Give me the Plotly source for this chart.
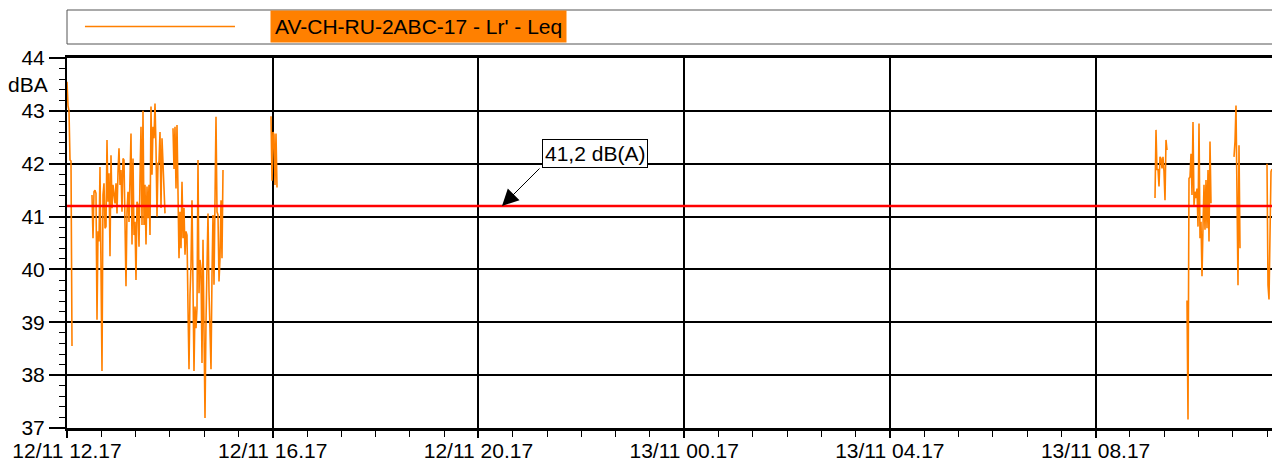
import plotly.graph_objects as go
import pandas as pd

# Leq samples (dBA), logged every 70 s, grouped in runs without gaps
SAMPLE_STEP = "70s"

seg_starts = [
    "2017-11-12 12:17:00",
    "2017-11-12 12:46:10",
    "2017-11-12 14:20:40",
    "2017-11-12 16:15:00",
    "2017-11-13 09:26:20",
    "2017-11-13 10:03:40",
    "2017-11-13 10:58:30",
    "2017-11-13 11:37:00",
]

leq_a = [43.55, 43.1, 43.0, 42.07, 42.05, 38.55]

leq_b1 = [
    41.41, 40.59, 41.47, 41.50, 41.44, 39.05, 40.72, 40.53, 41.94, 40.53,
    38.08, 41.41, 41.63, 40.78, 40.81, 42.45, 41.28, 41.82, 40.25, 42.16,
    41.16, 41.6, 41.41, 41.25, 41.63, 41.06, 41.85, 42.29, 41.6, 41.88,
    41.09, 42.1, 42.07, 41.16, 39.68, 41.09, 41.47, 40.9, 42.04, 42.57,
    40.47, 42.1, 40.65, 40.9, 39.8, 41.28, 41.22, 40.43, 41.72, 42.7,
    40.84, 43.0, 40.84, 41.6, 40.47, 41.57, 40.97, 41.6, 40.65, 43.08,
    41.79, 42.7, 42.48, 43.14, 42.3, 41.0, 42.0, 42.04, 42.6, 41.16,
    42.48, 42.04, 41.66, 41.06,
]

leq_b2 = [
    42.67, 41.9, 42.7, 41.53, 42.73, 41.09, 40.21, 41.09, 40.4, 41.66,
    40.59, 41.16, 40.28, 40.72, 40.65, 39.27, 38.11, 39.52, 40.09, 41.31,
    39.27, 38.08, 39.3, 38.89, 39.27, 42.07, 39.55, 40.18, 40.02, 38.23,
    40.56, 38.89, 37.19, 39.02, 40.09, 41.06, 39.58, 38.89, 38.11, 39.9,
    41.03, 39.71, 41.03, 42.89, 41.09, 41.03, 39.77, 40.21, 41.31, 40.21,
    41.88,
]

leq_c = [42.9, 41.68, 42.6, 42.55, 41.6, 42.57, 41.55]

leq_d1 = [41.35, 42.64, 41.88, 41.9, 41.57, 42.13, 42.1, 41.91, 42.13, 41.85,
          41.31, 42.45, 42.26]

leq_d2 = [39.41, 37.16, 41.72, 41.75, 42.19, 41.41, 42.79, 41.22, 41.47, 41.35,
          41.53, 40.81, 42.76, 40.59, 40.9, 39.87, 40.8, 41.6, 40.75, 41.69,
          40.78, 41.88, 40.53, 42.42, 41.25]

leq_d3 = [42.13, 42.42, 43.1, 41.22, 39.7, 42.35, 40.4]

leq_d4 = [42.0, 39.7, 39.43, 40.6, 41.85, 41.9]

segments = [leq_a, leq_b1, leq_b2, leq_c, leq_d1, leq_d2, leq_d3, leq_d4]

LEQ_TOTAL = 41.2
SERIES_NAME = "AV-CH-RU-2ABC-17 - Lr' - Leq"

X_START = "2017-11-12 12:17:00"
X_END = "2017-11-13 11:42:50"

# build one x/y series with None between runs so the line breaks
xs, ys = [], []
for start, vals in zip(seg_starts, segments):
    times = pd.date_range(start, periods=len(vals), freq=SAMPLE_STEP)
    xs.extend(times)
    ys.extend(vals)
    xs.append(times[-1] + pd.Timedelta(SAMPLE_STEP))
    ys.append(None)

FONT = "Arial, Liberation Sans, sans-serif"
ORANGE = "#FF8000"

fig = go.Figure()

fig.add_trace(go.Scatter(
    x=xs,
    y=ys,
    mode="lines",
    name=SERIES_NAME,
    line=dict(color=ORANGE, width=1.6),
    connectgaps=False,
))

fig.update_layout(
    width=1272,
    height=469,
    autosize=False,
    margin=dict(l=67, r=0, t=58, b=41),
    plot_bgcolor="white",
    paper_bgcolor="white",
    showlegend=False,
    font=dict(family=FONT, size=21, color="black"),
)

fig.update_xaxes(
    type="date",
    automargin=False,
    range=[X_START, X_END],
    tick0=X_START,
    dtick=4 * 3600 * 1000,
    tickformat="%d/%m %H.%M",
    ticks="outside",
    ticklen=7,
    tickwidth=1.5,
    tickcolor="black",
    ticklabelstandoff=-5,
    showgrid=True,
    gridcolor="black",
    gridwidth=1.5,
    showline=True,
    linecolor="black",
    linewidth=2.5,
    mirror=True,
    zeroline=False,
    minor=dict(dtick=40 * 60 * 1000, tick0=X_START, ticks="outside",
               ticklen=6, tickcolor="black", tickwidth=1, showgrid=False),
)

fig.update_yaxes(
    automargin=False,
    range=[37, 44],
    dtick=1,
    ticks="outside",
    ticklen=16,
    tickwidth=1.5,
    tickcolor="black",
    showgrid=True,
    gridcolor="black",
    gridwidth=1.5,
    showline=True,
    linecolor="black",
    linewidth=2,
    zeroline=False,
    minor=dict(dtick=0.2, ticks="outside", ticklen=6, tickcolor="black",
               tickwidth=1, showgrid=False),
)

# overall Leq line
fig.add_shape(type="line", xref="paper", yref="y", x0=0, x1=1,
              y0=LEQ_TOTAL, y1=LEQ_TOTAL, line=dict(color="#FF0000", width=2.5))

# label box + arrow for the overall level
fig.add_annotation(
    x="2017-11-12 22:33:00", y=42.19, xref="x", yref="y",
    text=f"{LEQ_TOTAL:.1f}".replace(".", ",") + " dB(A)",
    showarrow=False, bgcolor="white", bordercolor="black", borderwidth=1,
    borderpad=2, font=dict(size=21, color="black"),
)
fig.add_annotation(
    x="2017-11-12 20:44:30", y=LEQ_TOTAL, xref="x", yref="y",
    text="", showarrow=True, ax=39, ay=-39,
    arrowhead=2, arrowsize=3.3, arrowwidth=1, arrowcolor="black",
)

# unit label
fig.add_annotation(x=-0.0141, y=43.49, xref="paper", yref="y", text="dBA",
                   xanchor="right", showarrow=False,
                   font=dict(size=21, color="black"))

# legend box drawn above the plot
fig.add_shape(type="rect", xref="paper", yref="paper", x0=0, x1=1.01,
              y0=1.0378, y1=1.1297, line=dict(color="#555555", width=1),
              fillcolor="white")
fig.add_shape(type="line", xref="paper", yref="paper", x0=0.0149, x1=0.1394,
              y0=1.0851, y1=1.0851, line=dict(color=ORANGE, width=1.5))
fig.add_annotation(x=0.1681, y=1.0838, xref="paper", yref="paper",
                   xanchor="left", yanchor="middle", text=SERIES_NAME,
                   showarrow=False, bgcolor=ORANGE, borderpad=4,
                   font=dict(size=21, color="black"))

fig.write_html(
    "out.html",
    config={"displayModeBar": False, "responsive": False},
    post_script="document.body.style.margin='0';document.body.style.overflow='hidden';",
)
